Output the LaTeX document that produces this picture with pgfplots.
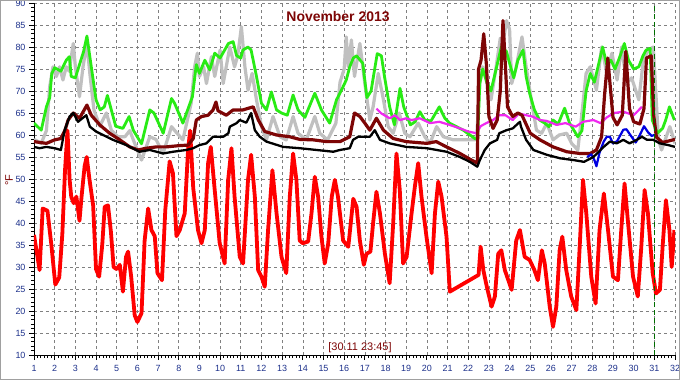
\documentclass[border=0pt]{standalone}
\usepackage{pgfplots}
\pgfplotsset{compat=1.18}
\usepackage{fontspec}
\setmainfont{Liberation Sans}
\definecolor{cRed}{RGB}{255,0,0}
\definecolor{cGreen}{RGB}{40,235,20}
\definecolor{cGray}{RGB}{192,192,192}
\definecolor{cMaroon}{RGB}{125,5,5}
\definecolor{cMag}{RGB}{240,40,240}
\definecolor{cBlue}{RGB}{0,0,225}
\definecolor{cNavy}{RGB}{30,50,140}
\definecolor{cGrid}{RGB}{128,128,128}
\definecolor{cVline}{RGB}{0,110,0}
\definecolor{cBorder}{RGB}{160,160,160}
\begin{document}
\begin{tikzpicture}[x=1bp,y=1bp]
\path[use as bounding box] (-34,-25) rectangle (646,355);
\fill[white] (-34,-25) rectangle (646,355);
\begin{axis}[
  at={(0,0)}, anchor=south west,
  width=641bp, height=352bp, scale only axis,
  xmin=1, xmax=32, ymin=10, ymax=90,
  xtick={1,2,...,32}, ytick={10,15,...,90},
  minor x tick num=5, minor y tick num=4,
  axis x line*=bottom, axis y line*=left,
  tick align=outside,
  major tick length=5bp, minor tick length=3bp,
  tick style={black, line width=0.8bp},
  axis line style={black, line width=0.8bp},
  grid=major,
  major grid style={cGrid, line width=0.6bp, dash pattern=on 3bp off 3bp},
  /pgf/number format/assume math mode=true,
  ticklabel style={font=\fontsize{9}{10}\selectfont, text=cNavy},
  every x tick label/.append style={yshift=-1.5bp},
  line join=round,
  clip=true,
]
% gray
\addplot[cGray, line width=3.2bp] coordinates {
(1.0,59) (1.2,58.5) (1.35,58.1) (1.6,61) (1.76,71) (1.92,75.5) (2.08,73.3) (2.24,75.5) (2.4,72.5) (2.56,75.5) (2.7,74.5) (2.9,80.8) (3.0,75.5) (3.2,68.7) (3.37,75.5) (3.56,80.8) (3.7,74) (3.9,65.7) (4.18,62) (4.5,65) (4.74,61.1) (5.06,59.6) (5.4,59.6) (5.63,61) (5.87,58.1) (6.2,54.3) (6.6,59.6) (6.9,59) (7.24,55.8) (7.65,61.9) (7.9,60.5) (8.2,58.9) (8.6,67.2) (8.77,75.5) (8.9,78.6) (9.0,73.3) (9.2,75.5) (9.34,71.7) (9.58,77.8) (9.74,73.3) (10.0,79.3) (10.15,71.7) (10.47,80) (10.7,75.5) (10.85,78) (11.03,84.6) (11.2,75.5) (11.35,70.2) (11.55,74) (11.76,68) (12.0,62) (12.24,58.9) (12.56,64.2) (12.9,59.6) (13.2,58.9) (13.53,64.2) (13.77,60.4) (14.17,58.9) (14.58,64.2) (14.82,60.4) (15.2,58.9) (15.6,62.7) (15.8,72) (16.0,75) (16.1,82.3) (16.2,75.5) (16.35,81.6) (16.5,73.3) (16.76,80.8) (17.0,71.7) (17.24,63.4) (17.4,66.4) (17.65,74) (17.9,68) (18.13,61.9) (18.37,60.4) (18.66,65) (18.93,60.4) (19.18,59.6) (19.58,62.7) (19.9,59.6) (20.15,58.1) (20.47,61.9) (20.8,59.6) (21.28,58.9) (22.4,58.9) (22.56,71.7) (22.7,75.5) (22.87,72.5) (23.1,68) (23.35,75.5) (23.55,82) (23.66,80) (23.85,86) (24.0,84) (24.1,71.7) (24.3,75) (24.6,82.3) (24.8,75.5) (25.05,68) (25.3,61.1) (25.55,60.4) (25.8,62.7) (26.1,58.9) (26.4,60) (26.76,60.4) (27.0,58.1) (27.3,56.6) (27.5,65) (27.7,74) (27.9,75.5) (28.2,70.2) (28.45,80) (28.7,74) (28.95,78.6) (29.2,72.5) (29.42,80) (29.66,71.7) (29.9,73) (30.25,68) (30.47,77) (30.7,79.3) (30.95,80) (31.2,58.9) (31.35,56.6) (31.75,61.9) (32.0,58.1)
};
% green
\addplot[cGreen, line width=2.8bp] coordinates {
(1.0,62.7) (1.35,61.1) (1.6,66.4) (1.76,68.5) (1.86,74) (2.0,75.3) (2.3,74.5) (2.56,77) (2.71,77.8) (2.8,73.3) (3.0,73) (3.2,76) (3.4,79) (3.56,82.5) (3.77,75.5) (4.0,68) (4.2,65.7) (4.4,66.4) (4.55,69) (4.7,66.4) (4.95,62) (5.3,61.5) (5.6,64.2) (5.8,61.1) (6.2,58) (6.6,65.7) (6.8,65) (7.25,60.4) (7.65,68.3) (7.8,67.2) (8.2,62.7) (8.66,68.7) (8.85,76) (9.0,74) (9.26,77) (9.5,74.8) (9.74,78.6) (10.0,77.5) (10.22,79.3) (10.4,80.8) (10.63,81.2) (10.8,78) (11.0,77.5) (11.1,79.3) (11.35,80) (11.5,79.3) (11.76,73.3) (12.0,67.2) (12.24,65.7) (12.48,69.8) (12.73,65.7) (12.97,65) (13.25,64.5) (13.53,69.1) (13.77,65.7) (14.1,64) (14.58,69.5) (14.9,65.7) (15.3,62.7) (15.63,68) (15.87,70.2) (16.1,72.5) (16.27,75.5) (16.44,77.5) (16.6,78) (16.9,76.3) (17.1,68.5) (17.3,70) (17.6,78.5) (17.8,78) (17.95,73.3) (18.2,66.4) (18.43,62.3) (18.7,70.6) (18.88,66.4) (19.2,62.3) (19.43,63) (19.66,65.3) (19.9,63.4) (20.2,63.2) (20.6,66.4) (20.87,63.8) (21.1,62.7) (21.76,61.1) (22.32,59.2) (22.45,59) (22.56,71.7) (22.7,75) (22.9,72) (23.1,70) (23.35,75) (23.6,80) (23.85,79) (24.0,76.3) (24.2,73) (24.4,77) (24.65,79.3) (24.8,73.3) (24.97,69.5) (25.2,65.7) (25.45,63.4) (25.7,62.7) (25.9,61.9) (26.1,63.4) (26.35,62.5) (26.66,66.1) (26.9,62.7) (27.3,59.6) (27.5,61) (27.7,70) (27.9,74) (28.1,72) (28.3,76) (28.5,80) (28.7,76) (28.9,77) (29.1,75) (29.35,78) (29.55,80.8) (29.75,77) (30.0,75) (30.25,75.5) (30.45,78) (30.6,79.3) (30.8,79.7) (30.9,63.4) (31.15,60.4) (31.4,61.5) (31.55,63.4) (31.73,66.4) (31.97,63.4)
};
% red
\addplot[cRed, line width=3.8bp] coordinates {
(1.0,37.3) (1.27,29.3) (1.42,43.3) (1.65,42.8) (1.84,35) (2.03,26) (2.22,27.6) (2.37,37.5) (2.5,52) (2.62,61) (2.72,50) (2.8,46) (2.92,44.5) (3.05,46) (3.2,40.5) (3.3,46) (3.45,53) (3.55,55) (3.68,50) (3.86,44) (4.0,29.5) (4.15,27.8) (4.3,35) (4.42,43.7) (4.58,44) (4.72,38) (4.85,30) (5.0,29.5) (5.15,30.5) (5.3,24.4) (5.45,32.3) (5.55,33.5) (5.7,27.8) (5.87,19) (6.0,17.5) (6.2,19.5) (6.35,36) (6.52,43.3) (6.68,38.4) (6.84,37) (6.97,28.6) (7.19,27) (7.35,43) (7.56,54) (7.72,51.3) (7.89,37) (8.05,38.4) (8.29,42.2) (8.45,56.6) (8.55,61) (8.7,48) (8.93,38.4) (9.1,35.4) (9.26,38.4) (9.42,53.6) (9.55,57.3) (9.74,47.5) (9.98,35.4) (10.22,30.8) (10.39,49.8) (10.55,57) (10.7,46) (10.95,32.3) (11.11,30.8) (11.35,49.8) (11.5,55.5) (11.68,46) (11.84,29.3) (12.0,27.8) (12.16,25.5) (12.32,38.4) (12.53,52) (12.73,42.2) (12.97,32.3) (13.2,28.6) (13.37,46) (13.53,55.8) (13.69,49.8) (13.85,36) (14.0,35.4) (14.26,35.8) (14.42,42.2) (14.58,50.5) (14.74,46) (14.9,36.9) (15.06,30.8) (15.23,35.4) (15.4,46) (15.55,49.8) (15.7,46) (15.95,36) (16.2,34.6) (16.44,45.5) (16.6,43.7) (16.76,36) (16.95,30.5) (17.08,33) (17.27,33.5) (17.4,40) (17.56,47.1) (17.73,42.2) (17.97,33) (18.2,26.3) (18.37,39.9) (18.53,55.8) (18.69,47.5) (18.85,30.8) (19.02,32.3) (19.26,42.2) (19.42,48.3) (19.58,53.6) (19.74,46) (19.98,36.9) (20.23,28.6) (20.39,42.2) (20.55,49.4) (20.71,46) (20.95,36.9) (21.11,24.4) (22.5,28.2) (22.6,34.6) (22.73,29.3) (22.9,25.5) (23.13,21) (23.29,23.3) (23.45,33) (23.6,33.8) (23.77,29.3) (24.1,24.8) (24.32,36) (24.5,38.4) (24.73,32.3) (24.97,31.6) (25.2,29.3) (25.37,27) (25.56,33.8) (25.7,30.8) (25.94,21) (26.1,16.4) (26.26,21) (26.42,33.8) (26.55,36.9) (26.74,29.3) (26.98,23.3) (27.23,20.2) (27.39,34.6) (27.55,49.8) (27.71,42.2) (27.95,27.8) (28.16,21.7) (28.35,38.4) (28.56,46.7) (28.76,38.4) (29.0,27.8) (29.24,27) (29.4,38.4) (29.56,49) (29.73,40) (29.97,27.8) (30.2,23.3) (30.37,34.6) (30.53,47.5) (30.69,42.2) (30.92,28.6) (31.08,24) (31.27,24.8) (31.4,34.6) (31.56,45.2) (31.73,38.4) (31.84,30) (31.97,38.4)
};
% magenta
\addplot[cMag, line width=2.2bp] coordinates {
(17.56,66) (17.8,64.9) (18.2,63.8) (18.45,64.5) (18.7,63.4) (19.0,63.8) (19.26,63.4) (19.66,63.8) (20.15,62.7) (20.6,63) (21.1,62.3) (21.6,61.5) (22.0,60.8) (22.4,60.4) (22.6,62) (22.87,62.7) (23.2,63.4) (23.5,64.5) (23.8,64.5) (24.15,63.4) (24.45,64.9) (24.8,64.5) (25.1,64.2) (25.47,63.4) (25.8,63.2) (26.27,62.3) (26.7,62.7) (27.2,61.9) (27.55,63) (28.05,63.4) (28.4,62.7) (28.7,64) (29.05,65) (29.5,65.3) (30.0,64.5) (30.4,66.4)
};
% maroon
\addplot[cMaroon, line width=3.2bp] coordinates {
(1.0,58.5) (1.6,58.1) (2.0,58.9) (2.3,59.2) (2.5,61.1) (2.65,63.4) (2.9,65) (3.2,63.8) (3.56,66.8) (3.77,64.5) (4.18,62.3) (4.66,60.4) (5.15,58.9) (5.63,57.3) (6.03,56.6) (6.44,57) (6.92,57.3) (7.4,57.3) (8.05,57.6) (8.45,57.7) (8.7,59.2) (8.85,63.4) (9.1,64.2) (9.42,64.5) (9.66,65.7) (9.8,67.5) (9.9,65.5) (10.3,64.5) (10.63,65.7) (11.1,65.7) (11.6,66.4) (11.85,63.4) (12.16,60.8) (12.73,60) (13.37,59.6) (13.85,59) (14.5,58.9) (15.15,58.5) (15.8,58.5) (16.27,59.6) (16.5,65) (16.76,64.2) (17.0,62.7) (17.24,61.1) (17.56,63.8) (17.9,61.1) (18.37,59.2) (19.0,58.5) (20.0,58.1) (20.45,58.5) (20.95,57.3) (21.6,55.8) (22.16,54.3) (22.44,53.6) (22.5,75) (22.62,77) (22.75,83) (22.88,76) (23.0,64.2) (23.2,61.5) (23.4,63.4) (23.55,70) (23.68,86) (23.8,75.5) (23.9,66.4) (24.15,64.2) (24.4,65) (24.6,64.5) (25.0,60.4) (25.47,58.9) (26.1,57.3) (26.76,56.2) (27.4,55.8) (27.9,55.8) (28.2,56.6) (28.45,59.6) (28.6,69.5) (28.75,77.5) (28.85,72) (29.0,64) (29.2,62.3) (29.45,64.5) (29.62,79) (29.8,66) (30.0,63) (30.3,62.5) (30.5,66) (30.62,77.5) (30.85,78) (30.97,64.5) (31.1,59.5) (31.4,58.3) (32.0,59)
};
% blue
\addplot[cBlue, line width=2.2bp] coordinates {
(27.75,55) (27.95,55.6) (28.1,54.3) (28.2,52.9) (28.35,56) (28.55,58.5) (28.7,59.6) (28.85,59.6) (29.0,58.1) (29.2,58.6) (29.5,61.2) (29.65,61.3) (29.9,59.6) (30.1,58.3) (30.3,60) (30.5,62) (30.7,60.6) (30.87,59.8) (31.0,60)
};
% black
\addplot[black, line width=2.3bp] coordinates {
(1.0,57.3) (1.27,57) (1.6,57.3) (2.0,57) (2.3,56.6) (2.48,61.1) (2.72,64.2) (2.9,65) (3.13,63) (3.34,63.8) (3.53,64.5) (3.7,61.9) (4.0,60.8) (4.34,60) (4.82,58.9) (5.47,57.7) (6.1,56.2) (6.6,56.6) (7.24,55.8) (7.73,56.2) (8.37,56.6) (8.7,57) (9.0,57.7) (9.34,58.1) (9.66,59.6) (10.15,59.6) (10.4,60.4) (10.47,61.9) (10.8,62.7) (10.95,63.4) (11.27,62.8) (11.5,65) (11.68,61.1) (11.92,59.6) (12.24,58.5) (13.05,57.3) (13.85,57) (14.66,56.6) (15.47,56.2) (15.8,56.6) (16.27,57) (16.43,58.9) (16.68,59.6) (17.24,59.6) (17.48,61.1) (17.73,58.9) (18.2,58.1) (19.0,57.3) (20.0,57) (20.95,56.2) (21.6,55) (22.08,53.9) (22.44,52.8) (22.56,54.3) (22.8,56.6) (23.05,58.1) (23.4,58.9) (23.5,60.4) (23.85,61.1) (24.15,61.5) (24.5,63) (24.55,61.9) (24.8,58.9) (25.15,56.6) (25.8,55.5) (26.45,54.7) (27.1,54.3) (27.6,53.9) (28.05,55) (28.55,57.3) (28.85,58.5) (29.18,58.1) (29.5,58.9) (29.8,58.1) (30.15,58.9) (30.4,59.6) (30.65,58.9) (30.95,58.9) (31.27,58.1) (31.68,57.7) (32.0,57.3)
};
% current time marker
\addplot[cVline, line width=0.9bp, dash pattern=on 5bp off 3bp] coordinates {(31,10) (31,90)};
\end{axis}
\node[text=cMaroon, font=\bfseries\fontsize{14}{16}\selectfont] at (304,338) {November 2013};
\node[text=cMaroon, font=\fontsize{11}{12}\selectfont] at (326,7.5) {[30.11 23:45]};
\node[text=cMaroon, rotate=90, font=\fontsize{11}{12}\selectfont] at (-25,175) {°F};
\draw[cBorder, line width=1bp] (-33.5,-24.5) rectangle (645.5,354.5);
\end{tikzpicture}
\end{document}
